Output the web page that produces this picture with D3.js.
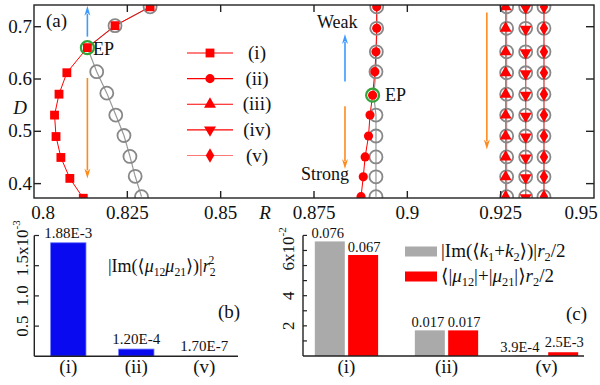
<!DOCTYPE html>
<html><head><meta charset="utf-8">
<script src="https://cdn.jsdelivr.net/npm/d3@7"></script>
<style>
body{margin:0;background:#fff}
text{font-family:"Liberation Serif","DejaVu Serif",serif;fill:#111}
</style></head><body>
<svg id="chart" width="600" height="385" font-family="Liberation Serif, DejaVu Serif, serif"></svg>
<script>
// ---------- data ----------
const rTicks = [0.8, 0.825, 0.85, 0.875, 0.9, 0.925, 0.95];
const rTickLabels = ["0.8", "0.825", "0.85", "0.875", "0.9", "0.925", "0.95"];
const dTicks = [0.4, 0.5, 0.6, 0.7];

// series (i): red squares and grey circles
const dRedI  = [0.372, 0.410, 0.450, 0.490, 0.531, 0.571, 0.612, 0.660, 0.702, 0.738];
const rRedI  = [0.8132, 0.8096, 0.8072, 0.8059, 0.8055, 0.8067, 0.8088, 0.8143, 0.8217, 0.8311];
const dGreyI = [0.375, 0.414, 0.452, 0.492, 0.531, 0.573, 0.614, 0.660, 0.702, 0.738];
const rGreyI = [0.8288, 0.8271, 0.8257, 0.8241, 0.8219, 0.8195, 0.8168, 0.8143, 0.8217, 0.8311];
const epIndexI = 7;

// series (ii)
const dII     = [0.375, 0.413, 0.451, 0.491, 0.531, 0.569, 0.614, 0.652, 0.697, 0.738];
const rRedII  = [0.8876, 0.8882, 0.8887, 0.8896, 0.8900, 0.8907, 0.8913, 0.8916, 0.8918, 0.8918];
const rGreyII = [0.8916, 0.8916, 0.8916, 0.8916, 0.8916, 0.8910, 0.8916, 0.8917, 0.8918, 0.8918];
const epIndexII = 5;

// series (iii)-(v): vertical columns
const dCols  = [0.375, 0.413, 0.451, 0.491, 0.531, 0.571, 0.612, 0.652, 0.697, 0.738];
const rIII = 0.9266, rIV = 0.9317, rV = 0.9366;

const legendNames = ["(i)", "(ii)", "(iii)", "(iv)", "(v)"];

// panel (b)
const catsB = ["(i)", "(ii)", "(v)"];
const valsB = [1.88e-3, 1.20e-4, 1.70e-7];
const labelsB = ["1.88E-3", "1.20E-4", "1.70E-7"];
const ticksB = [0.0005, 0.001, 0.0015, 0.002];

// panel (c)
const catsC = ["(i)", "(ii)", "(v)"];
const imK = [0.076, 0.017, 0.00039];
const muSum = [0.067, 0.017, 0.0025];
const labelsImK = ["0.076", "0.017", "3.9E-4"];
const labelsMu = ["0.067", "0.017", "2.5E-3"];
const ticksC = [0.01, 0.02, 0.03, 0.04, 0.05, 0.06, 0.07, 0.08];

// ---------- drawing ----------
const svg = d3.select("#chart");
const RED = "#ff0000", GREY = "#888", GREEN = "#33a33a", BLUE = "#3d9bff", ORANGE = "#ff8a1c";

function rich(sel, parts, fs) {
    let shift = 0;
    parts.forEach(p => {
        const target = p.sub ? 4 : (p.sup ? -8 : 0);
        const ts = sel.append("tspan").text(p.t).attr("dy", target - shift);
        if (p.sub || p.sup) ts.attr("font-size", fs * 0.65);
        if (p.it) ts.attr("font-style", "italic");
        if (p.dx) ts.attr("dx", p.dx);
        shift = target;
    });
}

// ===== panel (a) =====
const x = d3.scaleLinear().domain([0.8, 0.95]).range([34, 594]);
const y = d3.scaleLinear().domain([0.3725, 0.7415]).range([198, 5]);

svg.append("clipPath").attr("id", "clipA")
    .append("rect").attr("x", 34).attr("y", 5).attr("width", 560).attr("height", 193);

const gA = svg.append("g");
const plot = gA.append("g").attr("clip-path", "url(#clipA)");

const line = d3.line().x(d => x(d[0])).y(d => y(d[1]));
const zipPts = (rs, ds) => ds.map((d, i) => [Array.isArray(rs) ? rs[i] : rs, d]);

const greyI = zipPts(rGreyI, dGreyI), redI = zipPts(rRedI, dRedI);
const greyII = zipPts(rGreyII, dII), redII = zipPts(rRedII, dII);
const cols = [rIII, rIV, rV].map(r => zipPts(r, dCols));

// grey lines
[greyI, greyII, ...cols].forEach(pts => {
    plot.append("path").attr("d", line(pts)).attr("fill", "none")
        .attr("stroke", "#999").attr("stroke-width", 1.2);
});
// red lines
[redI, redII].forEach(pts => {
    plot.append("path").attr("d", line(pts)).attr("fill", "none")
        .attr("stroke", RED).attr("stroke-width", 1);
});
cols.forEach((pts, k) => {
    plot.append("path").attr("d", line(pts)).attr("fill", "none")
        .attr("stroke", "#f25a5a").attr("stroke-width", 1.2)
        .attr("transform", "translate(" + (k === 0 ? -1 : 0) + ",0)");
});

// grey open circles
function greyCircles(pts, skip) {
    plot.selectAll(null).data(pts.filter((d, i) => i !== skip)).enter()
        .append("circle").attr("cx", d => x(d[0])).attr("cy", d => y(d[1])).attr("r", 6.5)
        .attr("fill", "none").attr("stroke", GREY).attr("stroke-width", 1.8);
}
greyCircles(greyI, epIndexI);
greyCircles(greyII, epIndexII);
cols.forEach(pts => greyCircles(pts, -1));

// red markers
const shapes = [
    d3.symbol().type(d3.symbolSquare).size(78),
    d3.symbol().type(d3.symbolCircle).size(66),
    d3.symbol().type(d3.symbolTriangle).size(62),
    d3.symbol().type(d3.symbolTriangle).size(62),
    d3.symbol().type(d3.symbolDiamond).size(62)
];
const rot = [0, 0, 0, 180, 0];
[redI, redII, ...cols].forEach((pts, k) => {
    plot.selectAll(null).data(pts).enter().append("path")
        .attr("d", shapes[k]())
        .attr("transform", d => `translate(${x(d[0]) - (k === 2 ? 1 : 0)},${y(d[1]) + (k === 3 ? 1 : 0)}) rotate(${rot[k]})`)
        .attr("fill", RED);
});

// EP rings
[redI[epIndexI], redII[epIndexII]].forEach(d => {
    plot.append("circle").attr("cx", x(d[0])).attr("cy", y(d[1])).attr("r", 6.5)
        .attr("fill", "none").attr("stroke", GREEN).attr("stroke-width", 2.2);
});

// arrows [R, D from, D to, colour]
const arrows = [
    [0.8143, 0.681, 0.740, BLUE],
    [0.8143, 0.602, 0.410, ORANGE],
    [0.8833, 0.595, 0.686, BLUE],
    [0.8833, 0.548, 0.428, ORANGE],
    [0.9213, 0.727, 0.465, ORANGE]
];
arrows.forEach(a => {
    const ax = x(a[0]), y0 = y(a[1]), y1 = y(a[2]);
    const dir = y1 < y0 ? -1 : 1;
    gA.append("line").attr("x1", ax).attr("x2", ax).attr("y1", y0).attr("y2", y1 - dir * 8)
        .attr("stroke", a[3]).attr("stroke-width", 1.6);
    gA.append("path")
        .attr("d", `M${ax},${y1} L${ax - 3},${y1 - dir * 10} L${ax},${y1 - dir * 7} L${ax + 3},${y1 - dir * 10} Z`)
        .attr("fill", a[3]);
});

// frame and ticks
gA.append("rect").attr("x", 34).attr("y", 5).attr("width", 560).attr("height", 193)
    .attr("fill", "none").attr("stroke", "#222").attr("stroke-width", 1.4);
rTicks.slice(1, -1).forEach(r => {
    gA.append("line").attr("x1", x(r)).attr("x2", x(r)).attr("y1", 198).attr("y2", 191).attr("stroke", "#222").attr("stroke-width", 1.4);
    gA.append("line").attr("x1", x(r)).attr("x2", x(r)).attr("y1", 5).attr("y2", 12).attr("stroke", "#222").attr("stroke-width", 1.4);
});
dTicks.forEach(d => {
    gA.append("line").attr("x1", 34).attr("x2", 41).attr("y1", y(d)).attr("y2", y(d)).attr("stroke", "#222").attr("stroke-width", 1.4);
    gA.append("line").attr("x1", 594).attr("x2", 586).attr("y1", y(d)).attr("y2", y(d)).attr("stroke", "#222").attr("stroke-width", 1.4);
});
rTicks.forEach((r, i) => {
    gA.append("text").attr("x", x(r) + (i === 0 ? 9 : (i === rTicks.length - 1 ? -13 : 0))).attr("y", 219)
        .attr("text-anchor", "middle").attr("font-size", 19).text(rTickLabels[i]);
});
dTicks.forEach(d => {
    gA.append("text").attr("x", 32).attr("y", y(d) + 6).attr("text-anchor", "end")
        .attr("font-size", 19).text(d.toFixed(1));
});
gA.append("text").attr("x", 20).attr("y", 114).attr("text-anchor", "middle")
    .attr("font-size", 19).attr("font-style", "italic").text("D");
gA.append("text").attr("x", 265).attr("y", 219).attr("text-anchor", "middle")
    .attr("font-size", 19).attr("font-style", "italic").text("R");
gA.append("text").attr("x", 46).attr("y", 27).attr("font-size", 19).text("(a)");
gA.append("text").attr("x", 93).attr("y", 55).attr("font-size", 18).text("EP");
gA.append("text").attr("x", 385).attr("y", 101).attr("font-size", 18).text("EP");
gA.append("text").attr("x", 317).attr("y", 28).attr("font-size", 18).text("Weak");
gA.append("text").attr("x", 301).attr("y", 180).attr("font-size", 18).text("Strong");

// legend
const legY = d3.scalePoint().domain(legendNames).range([53, 155.5]);
legendNames.forEach((n, k) => {
    const ly = legY(n);
    gA.append("line").attr("x1", 187).attr("x2", 233).attr("y1", ly).attr("y2", ly)
        .attr("stroke", k === 4 ? "#f77" : RED).attr("stroke-width", 1.1);
    gA.append("path").attr("d", shapes[k]())
        .attr("transform", `translate(210,${ly}) rotate(${rot[k]})`).attr("fill", RED);
    gA.append("text").attr("x", 257).attr("y", ly + 6).attr("text-anchor", "middle")
        .attr("font-size", 19).text(n);
});

// ===== panel (b) =====
const xB = d3.scaleBand().domain(catsB).range([34.3, 238.3]).paddingInner(0.48).paddingOuter(0.24);
const yB = d3.scaleLinear().domain([0, 0.002]).range([356.3, 235.5]);
const gB = svg.append("g");
gB.selectAll(null).data(valsB).enter().append("rect")
    .attr("x", (d, i) => xB(catsB[i])).attr("width", xB.bandwidth())
    .attr("y", d => yB(d)).attr("height", d => yB(0) - yB(d))
    .attr("fill", "#0a0af0").attr("stroke", "#6f7bff").attr("stroke-width", 0.8);
gB.append("line").attr("x1", 34.3).attr("x2", 238).attr("y1", yB(0)).attr("y2", yB(0)).attr("stroke", "#222").attr("stroke-width", 1.4);
gB.append("line").attr("x1", 34.3).attr("x2", 34.3).attr("y1", yB(0)).attr("y2", yB(0.002)).attr("stroke", "#222").attr("stroke-width", 1.4);
ticksB.forEach(t => {
    gB.append("line").attr("x1", 34.3).attr("x2", 39).attr("y1", yB(t)).attr("y2", yB(t)).attr("stroke", "#222").attr("stroke-width", 1.2);
});
[["0.5", 0.0005], ["1.0", 0.001]].forEach(l => {
    gB.append("text").attr("transform", `translate(28,${yB(l[1])}) rotate(-90)`)
        .attr("text-anchor", "middle").attr("font-size", 17).text(l[0]);
});
const tB = gB.append("text").attr("transform", `translate(28,${yB(0.0015) + 10.5}) rotate(-90)`).attr("font-size", 17);
rich(tB, [{t: "1.5x10"}, {t: "-3", sup: true}], 17);
catsB.forEach((c, i) => {
    gB.append("text").attr("x", xB(c) + xB.bandwidth() / 2).attr("y", 373)
        .attr("text-anchor", "middle").attr("font-size", 19).text(c);
    gB.append("text").attr("x", xB(c) + xB.bandwidth() / 2).attr("y", yB(valsB[i]) - 5)
        .attr("text-anchor", "middle").attr("font-size", 15).text(labelsB[i]);
});
const fB = gB.append("text").attr("x", 108).attr("y", 272).attr("font-size", 18);
rich(fB, [{t: "|Im(⟨"}, {t: "μ", it: true}, {t: "12", sub: true}, {t: "μ", it: true}, {t: "21", sub: true},
    {t: "⟩)|"}, {t: "r", it: true}, {t: "2", sub: true}, {t: "2", sup: true, dx: -7}], 18);
gB.append("text").attr("x", 218).attr("y", 318).attr("font-size", 19).text("(b)");

// ===== panel (c) =====
const xC = d3.scaleBand().domain(catsC).range([303, 590]).paddingInner(0.367).paddingOuter(0.118);
const xC2 = d3.scaleBand().domain(["im", "mu"]).range([0, xC.bandwidth()]).paddingInner(0.1);
const yC = d3.scaleLinear().domain([0, 0.08]).range([356, 235.4]);
const gC = svg.append("g");
[[imK, "im", "#aaaaaa", labelsImK, -2], [muSum, "mu", RED, labelsMu, 1]].forEach(s => {
    gC.selectAll(null).data(s[0]).enter().append("rect")
        .attr("x", (d, i) => xC(catsC[i]) + xC2(s[1])).attr("width", xC2.bandwidth())
        .attr("y", d => yC(d)).attr("height", d => yC(0) - yC(d))
        .attr("fill", s[2]);
    s[0].forEach((v, i) => {
        const cx = xC(catsC[i]) + xC2(s[1]) + xC2.bandwidth() / 2 + (i === 2 && s[1] === "im" ? -10 : s[4]);
        gC.append("text").attr("x", cx).attr("y", yC(v) - 3 - (i === 2 && s[1] === "mu" ? 2 : 0))
            .attr("text-anchor", "middle").attr("font-size", 14.5).text(s[3][i]);
    });
});
gC.append("line").attr("x1", 303).attr("x2", 584).attr("y1", yC(0)).attr("y2", yC(0)).attr("stroke", "#222").attr("stroke-width", 1.4);
gC.append("line").attr("x1", 303).attr("x2", 303).attr("y1", yC(0)).attr("y2", yC(0.08)).attr("stroke", "#222").attr("stroke-width", 1.4);
ticksC.forEach(t => {
    gC.append("line").attr("x1", 303).attr("x2", 307).attr("y1", yC(t)).attr("y2", yC(t)).attr("stroke", "#222").attr("stroke-width", 1.2);
});
[["2", 0.02], ["4", 0.04]].forEach(l => {
    gC.append("text").attr("transform", `translate(294,${yC(l[1])}) rotate(-90)`)
        .attr("text-anchor", "middle").attr("font-size", 17).text(l[0]);
});
const tC = gC.append("text").attr("transform", `translate(294,${yC(0.06) + 5}) rotate(-90)`).attr("font-size", 17);
rich(tC, [{t: "6x10"}, {t: "-2", sup: true}], 17);
catsC.forEach(c => {
    gC.append("text").attr("x", xC(c) + xC.bandwidth() / 2).attr("y", 373)
        .attr("text-anchor", "middle").attr("font-size", 19).text(c);
});
// legend (c)
gC.append("rect").attr("x", 405).attr("y", 246.5).attr("width", 32).attr("height", 10).attr("fill", "#aaaaaa");
gC.append("rect").attr("x", 405).attr("y", 271.5).attr("width", 32).attr("height", 10).attr("fill", RED);
const l1 = gC.append("text").attr("x", 441).attr("y", 257).attr("font-size", 19);
rich(l1, [{t: "|Im(⟨"}, {t: "k", it: true}, {t: "1", sub: true}, {t: "+"}, {t: "k", it: true}, {t: "2", sub: true},
    {t: "⟩)|"}, {t: "r", it: true}, {t: "2", sub: true}, {t: "/2"}], 19);
const l2 = gC.append("text").attr("x", 441).attr("y", 282).attr("font-size", 19);
rich(l2, [{t: "⟨|"}, {t: "μ", it: true}, {t: "12", sub: true}, {t: "|+|"}, {t: "μ", it: true}, {t: "21", sub: true},
    {t: "|⟩"}, {t: "r", it: true}, {t: "2", sub: true}, {t: "/2"}], 19);
gC.append("text").attr("x", 566).attr("y", 320).attr("font-size", 19).text("(c)");
</script>
</body></html>
